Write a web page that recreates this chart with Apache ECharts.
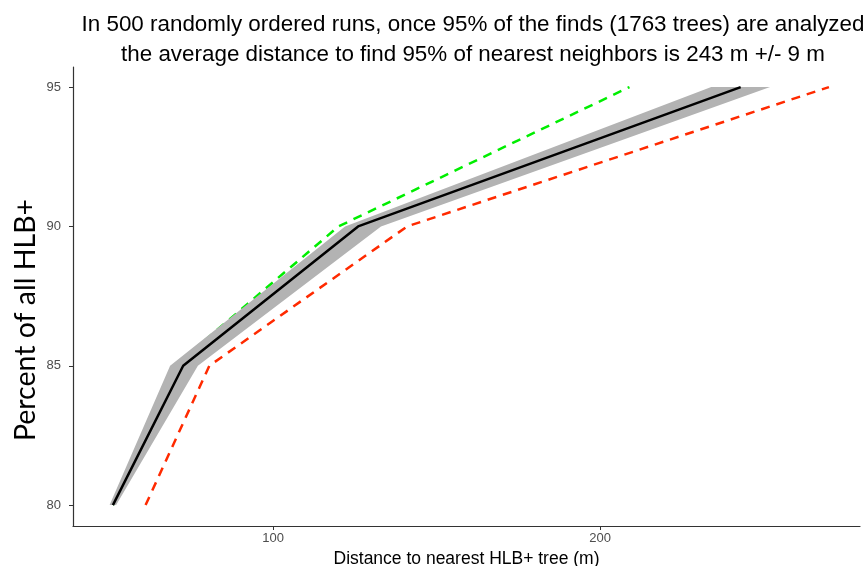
<!DOCTYPE html>
<html>
<head>
<meta charset="utf-8">
<script src="https://cdn.jsdelivr.net/npm/echarts@6/dist/echarts.min.js"></script>
<style>
  html, body { margin: 0; padding: 0; background: #fff; }
  #Chart1 { width: 864px; height: 566px; }
</style>
</head>
<body>
<div id="Chart1"></div>
<script>
// percent of all HLB+ found, and distance (m) needed to reach it
const pct = [80, 85, 90, 95];
const meanDist = [51, 72.5, 126, 243];
const lowerDist = [50, 68.5, 122, 234];
const upperDist = [52, 77, 133, 252];
const fastDist = [51, 70, 120, 209];
const slowDist = [61, 80.5, 141, 270];

const xTicks = [100, 200];
const yTicks = [80, 85, 90, 95];

const myChart = echarts.init(document.getElementById("Chart1"));

const pairs = (xs) => xs.map((x, i) => [x, pct[i]]);

const option = {
  animation: false,
  title: {
    text: "In 500 randomly ordered runs, once 95% of the finds (1763 trees) are analyzed\nthe average distance to find 95% of nearest neighbors is 243 m +/- 9 m",
    left: 468,
    top: 5,
    textAlign: "center",
    textStyle: {
      fontFamily: "Liberation Sans",
      fontSize: 22.4,
      fontWeight: "normal",
      color: "#000",
      lineHeight: 30,
    },
  },
  graphic: [
    {
      type: "text",
      x: 26,
      y: 320,
      rotation: Math.PI / 2,
      style: {
        text: "Percent of all HLB+",
        font: "28.5px Lato",
        fill: "#000",
        textAlign: "center",
        textVerticalAlign: "middle",
      },
    },
  ],
  grid: { left: 73, right: 4, top: 67, bottom: 40, outerBoundsMode: "none" },
  xAxis: {
    type: "value",
    min: 38.8,
    max: 279.5,
    name: "Distance to nearest HLB+ tree (m)",
    nameLocation: "middle",
    nameGap: 18,
    nameTextStyle: { fontFamily: "Liberation Sans", fontSize: 17.5, color: "#000" },
    axisLine: { lineStyle: { color: "#333", width: 1.2 } },
    axisTick: { customValues: xTicks, length: 4, lineStyle: { color: "#333" } },
    axisLabel: { customValues: xTicks, fontFamily: "Liberation Sans", fontSize: 13, color: "#4d4d4d", margin: 6 },
    splitLine: { show: false },
  },
  yAxis: {
    type: "value",
    min: 79.25,
    max: 95.72,
    axisLine: { show: true, lineStyle: { color: "#333", width: 1.2 } },
    axisTick: { show: true, customValues: yTicks, length: 4, lineStyle: { color: "#333" } },
    axisLabel: { customValues: yTicks, fontFamily: "Liberation Sans", fontSize: 13, color: "#4d4d4d", margin: 12 },
    splitLine: { show: false },
  },
  series: [
    {
      name: "fastest",
      type: "line",
      data: pairs(fastDist),
      symbol: "none",
      z: 1,
      lineStyle: { color: "#00ee00", width: 2.5, type: [9, 7] },
    },
    {
      name: "range",
      type: "custom",
      z: 2,
      data: pct.map((p, i) => [lowerDist[i], upperDist[i], p]),
      encode: { x: [0, 1], y: 2 },
      renderItem: (params, api) => {
        if (params.dataIndex !== 0) return;
        const pts = [];
        for (let i = 0; i < pct.length; i++) pts.push(api.coord([lowerDist[i], pct[i]]));
        for (let i = pct.length - 1; i >= 0; i--) pts.push(api.coord([upperDist[i], pct[i]]));
        return {
          type: "polygon",
          shape: { points: pts },
          style: { fill: "#b3b3b3" },
        };
      },
    },
    {
      name: "slowest",
      type: "line",
      data: pairs(slowDist),
      symbol: "none",
      z: 3,
      lineStyle: { color: "#ff2a00", width: 2.5, type: [9, 7] },
    },
    {
      name: "mean",
      type: "line",
      data: pairs(meanDist),
      symbol: "none",
      z: 4,
      lineStyle: { color: "#000", width: 2.5 },
    },
  ],
};

myChart.setOption(option);
</script>
</body>
</html>
